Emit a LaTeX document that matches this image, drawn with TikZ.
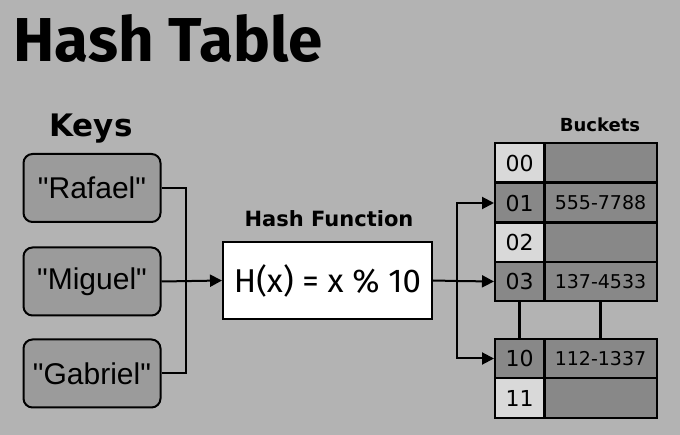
\documentclass[tikz,border=0pt]{standalone}
\usepackage{fontspec}
\setmainfont{Fira Sans}
\newfontfamily\keyfont{Liberation Sans}
\newfontfamily\cellfont{DejaVu Sans}
\usetikzlibrary{arrows.meta}

\definecolor{bgcol}{RGB}{179,179,179}
\definecolor{keycol}{RGB}{155,155,155}
\definecolor{darkcell}{RGB}{136,136,136}
\definecolor{lightcell}{RGB}{217,217,217}

\tikzset{
  keybox/.style={draw, line width=2pt, rounded corners=9pt, fill=keycol,
    minimum width=137pt, minimum height=68pt, font=\keyfont\fontsize{30}{30}\selectfont},
  hashbox/.style={draw, line width=2pt, fill=white,
    minimum width=209pt, minimum height=77pt, font=\fontsize{33}{33}\selectfont},
  cell/.style={draw, line width=2pt, minimum height=39pt, inner sep=0pt},
  heading/.style={anchor=base, font=\cellfont\bfseries\fontsize{#1}{#1}\selectfont},
  link/.style={line width=2pt},
  arrow/.style={link, -{Triangle[length=12pt,width=12pt]}},
}

\begin{document}
\begin{tikzpicture}[x=1pt, y=-1pt]
\fill[bgcol] (0,0) rectangle (680,435);
\useasboundingbox (0,0) rectangle (680,435);

\node[anchor=base west, font=\bfseries\fontsize{62}{62}\selectfont] (title) at (10,62) {Hash Table};
\node[heading=31] (keys) at (91,137) {Keys};
\node[heading=21] (hashlabel) at (329,227) {Hash Function};
\node[heading=18] (buckets) at (600,132) {Buckets};

% keys
\node[keybox] (rafael) at (92,188) {"Rafael"};
\node[keybox] (miguel) at (92,281.5) {"Miguel"};
\node[keybox] (gabriel) at (92,373.5) {"Gabriel"};

\node[hashbox] (hash) at (327.5,280.5) {H(x) = x \% 10};

% bucket cells
\foreach \idx/\y/\col/\val in {00/163/lightcell/, 01/203/darkcell/555-7788,
    02/242.5/lightcell/, 03/281.5/darkcell/137-4533,
    10/358.5/darkcell/112-1337, 11/398/lightcell/} {
  \node[cell, fill=\col, minimum width=49pt, font=\cellfont\fontsize{22}{22}\selectfont] (i\idx) at (519.5,\y) {\idx};
  \node[cell, fill=darkcell, minimum width=112pt, font=\cellfont\fontsize{19}{19}\selectfont] (v\idx) at (600.5,\y) {\val};
}

% keys into the hash function
\coordinate (join) at (186,281);
\draw[link] (rafael.east) -| (join);
\draw[link] (gabriel.east) -| (join);
\draw[arrow] (miguel.east) -- (hash.west);

% hash function out to the buckets
\coordinate (split) at (457,281);
\draw[link] (hash.east) -- (split);
\draw[arrow] (split) |- (i01.west);
\draw[arrow] (split) -- (i03.west);
\draw[arrow] (split) |- (i10.west);

% gap in the table
\draw[line width=3pt] (i03.south) -- (i10.north);
\draw[line width=3pt] (v03.south) -- (v10.north);
\end{tikzpicture}
\end{document}
